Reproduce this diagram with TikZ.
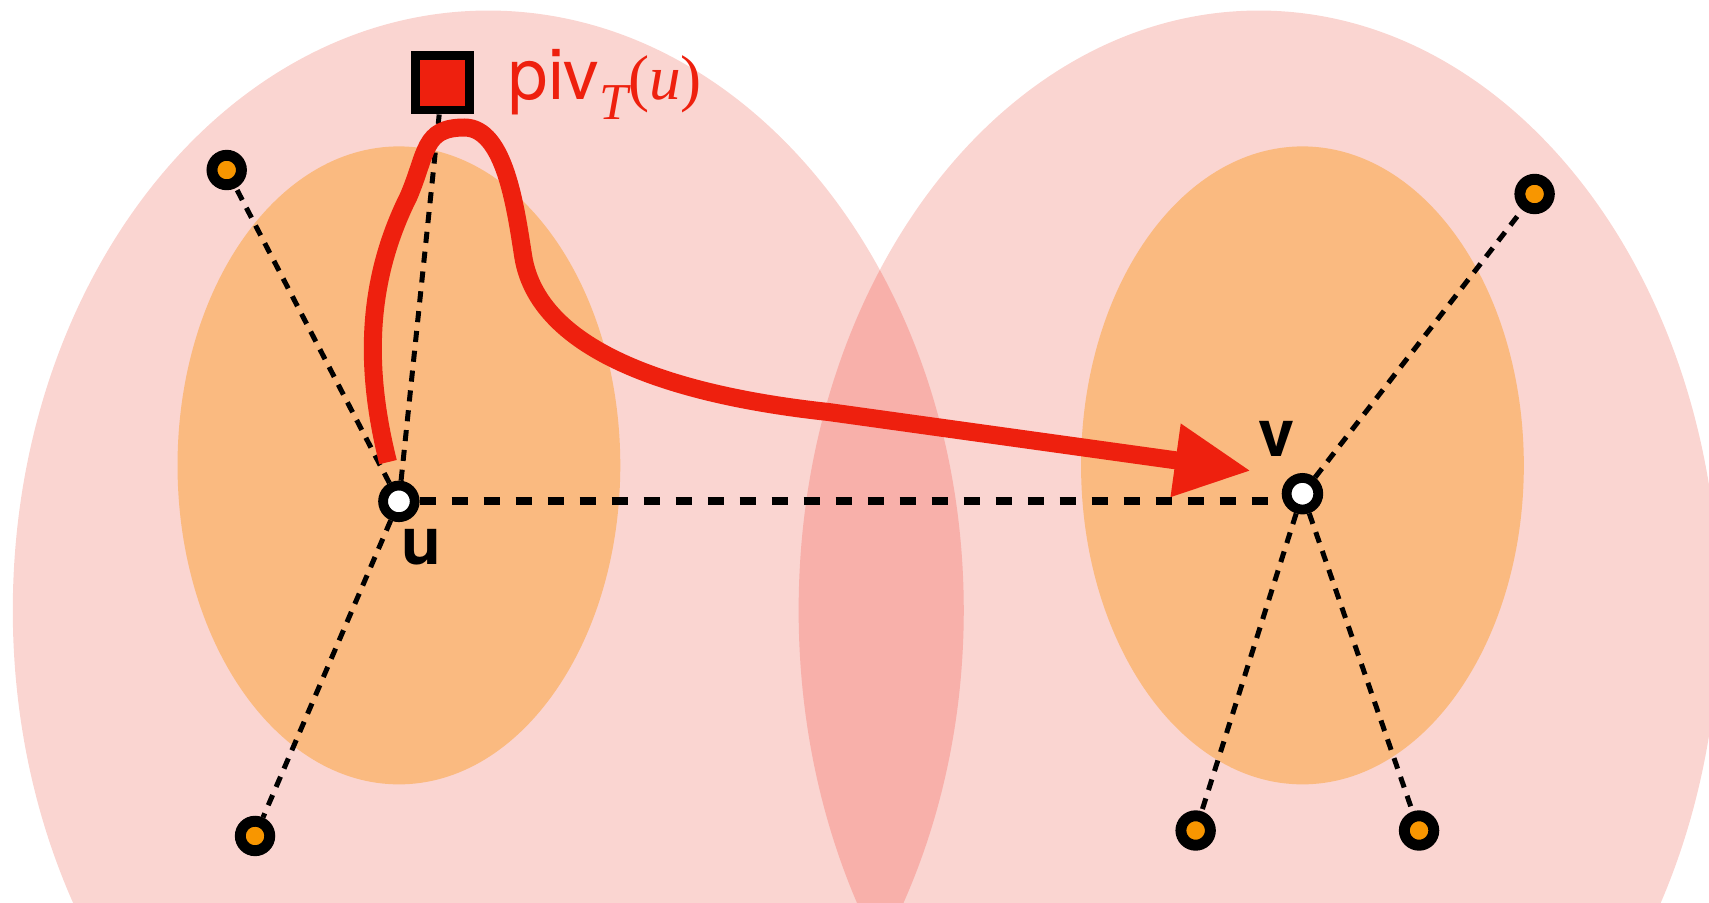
\documentclass[tikz,border=0pt]{standalone}
\usepackage{fontspec}
\setmainfont{TeX Gyre Heros}
\newfontfamily\tms{Liberation Serif}
\usetikzlibrary{arrows.meta}
\definecolor{pinkbg}{RGB}{250,213,209}
\definecolor{overlapc}{RGB}{248,176,170}
\definecolor{orangebg}{RGB}{250,186,128}
\definecolor{redline}{RGB}{238,32,14}
\definecolor{leafc}{RGB}{248,150,0}
\begin{document}
\begin{tikzpicture}[x=0.01cm,y=-0.01cm,
  hub/.style={circle,draw=black,fill=white,line width=2.56pt,minimum size=0.29cm,inner sep=0pt},
  leaf/.style={circle,draw=black,fill=leafc,line width=2.85pt,minimum size=0.27cm,inner sep=0pt},
  pivbox/.style={rectangle,draw=black,fill=redline,line width=2.3pt,minimum size=0.5cm,inner sep=0pt},
  thinedge/.style={line width=1.3pt,dash pattern=on 2.9pt off 2.3pt},
  thickedge/.style={line width=2.1pt,dash pattern=on 4.35pt off 4pt},
  redpath/.style={draw=redline,line width=4.7pt,-{Triangle[length=0.7cm,width=0.63cm]}},
  lbl/.style={font=\bfseries\fontsize{17}{20}\selectfont,inner sep=0pt}]
\useasboundingbox (0,0) rectangle (1568,828);
\clip (0,0) rectangle (1568,828);
% big regions
\fill[pinkbg] (448,560) ellipse [x radius=4.36cm, y radius=5.5cm];
\fill[pinkbg] (1155,560) ellipse [x radius=4.22cm, y radius=5.5cm];
\begin{scope}
  \clip (448,560) ellipse [x radius=4.36cm, y radius=5.5cm];
  \fill[overlapc] (1155,560) ellipse [x radius=4.22cm, y radius=5.5cm];
\end{scope}
% inner regions
\fill[orangebg] (366,427) ellipse [x radius=2.03cm, y radius=2.925cm];
\fill[orangebg] (1195,427) ellipse [x radius=2.03cm, y radius=2.925cm];
% nodes
\node[hub] (u) at (366,460) {};
\node[hub] (v) at (1195,453) {};
\node[pivbox] (p) at (406,76) {};
\node[leaf] (a) at (208,156) {};
\node[leaf] (b) at (234,767) {};
\node[leaf] (c) at (1408,178) {};
\node[leaf] (d) at (1097,762) {};
\node[leaf] (e) at (1302,762) {};
% edges
\draw[thinedge] (u) -- (a);
\draw[thinedge] (u) -- (b);
\draw[thinedge] (u) -- (p);
\draw[thinedge] (v) -- (c);
\draw[thinedge] (v) -- (d);
\draw[thinedge] (v) -- (e);
\draw[thickedge] (u) -- (u -| v.west);
% labels
\node[lbl] (ul) at (387,502) {u};
\node[lbl] (vl) at (1171,403) {v};
\node[anchor=base west,text=redline,inner sep=0pt] (pl) at (466,91)
  {\fontsize{18.5}{20}\selectfont piv\raisebox{-0.19cm}{\tms\itshape\fontsize{13.5}{15}\selectfont T}{\tms\fontsize{16.5}{20}\selectfont(\textit{u})}};
% red path
\coordinate (rs) at (356,424);
\coordinate (re) at (1148,432);
\draw[redpath] (rs) .. controls (335,340) and (335,260) .. (375,180)
  .. controls (392,140) and (388,117) .. (426,117)
  .. controls (463,117) and (473,190) .. (480,235)
  .. controls (495,330) and (640,365) .. (760,378) -- (re);
\end{tikzpicture}
\end{document}
